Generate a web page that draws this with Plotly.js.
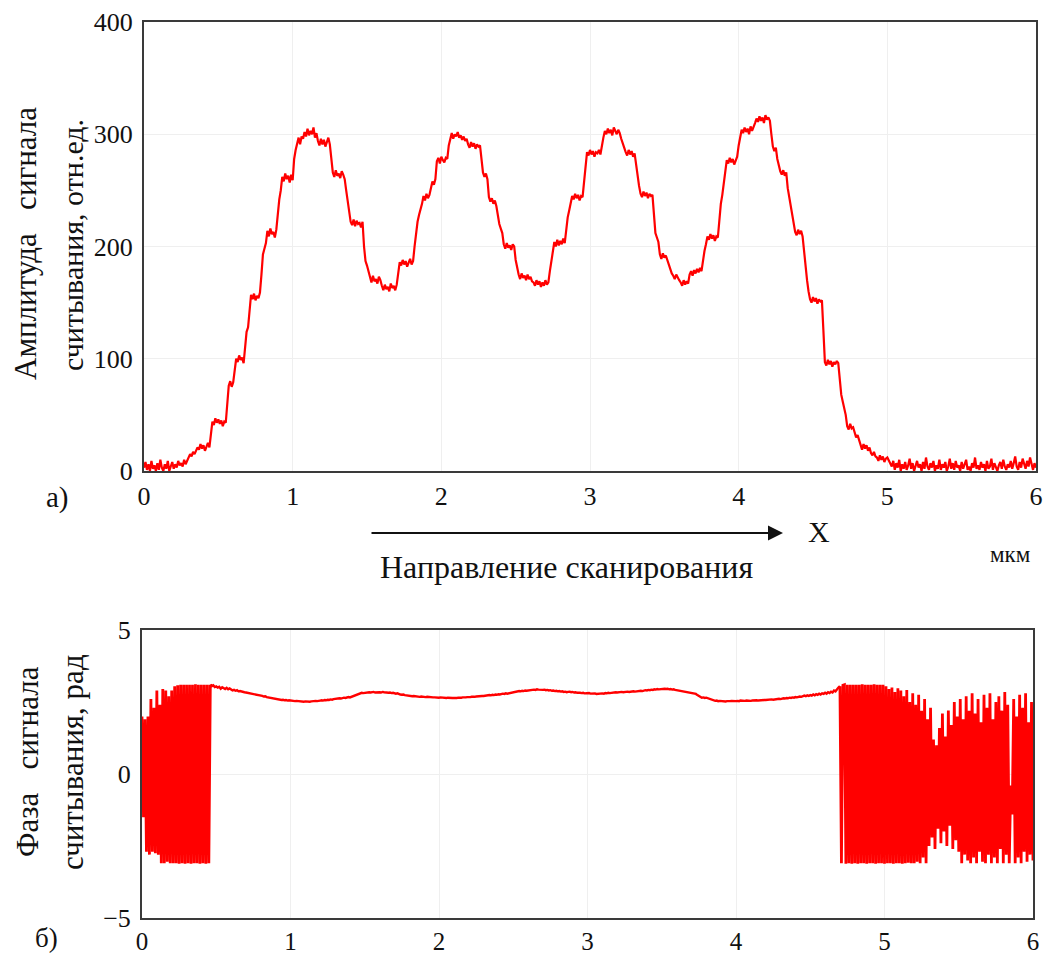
<!DOCTYPE html>
<html>
<head>
<meta charset="utf-8">
<script src="https://cdn.plot.ly/plotly-3.0.1.min.js"></script>
<style>html,body{margin:0;padding:0;background:#fff;}#chart{width:1051px;height:955px;}</style>
</head>
<body>
<div id="chart"></div>
<script>
// Sampling of the scan coordinate (мкм)
const xStart = 0;
const xStep = 0.01;

// Amplitude of the read signal, rel. units; one row per 0.1 мкм (x = 0.00 ... 6.00)
const amplitude = [
  3, 8, 1, 6, 0, 9, 2, 5, 0, 7,
  1, 10, 3, 0, 6, 2, 9, 0, 4, 8,
  2, 6, 3, 9, 5, 7, 4, 10, 6, 9,
  11, 15, 13, 17, 15, 19, 21, 19, 24, 20,
  23, 18, 22, 25, 21, 33, 44, 41, 47, 43,
  46, 42, 45, 40, 44, 43, 60, 76, 80, 75,
  79, 90, 100, 97, 103, 99, 101, 96, 112, 124,
  128, 140, 157, 153, 158, 152, 156, 154, 159, 175,
  193, 198, 203, 214, 209, 216, 211, 213, 208, 215,
  232, 242, 250, 262, 258, 265, 260, 263, 257, 264,
  259, 278, 286, 293, 297, 291, 298, 296, 302, 298,
  305, 299, 303, 300, 306, 297, 301, 294, 290, 296,
  291, 295, 289, 293, 297, 291, 278, 266, 262, 268,
  263, 265, 261, 267, 264, 260, 250, 240, 230, 222,
  219, 224, 218, 223, 220, 221, 217, 222, 200, 187,
  183, 178, 172, 168, 174, 169, 171, 167, 173, 170,
  165, 161, 166, 162, 164, 160, 167, 163, 165, 161,
  166, 176, 186, 183, 188, 184, 187, 182, 186, 189,
  184, 187, 200, 212, 222, 228, 232, 238, 245, 241,
  247, 243, 246, 253, 258, 255, 260, 276, 279, 274,
  280, 277, 275, 279, 278, 290, 297, 301, 296, 300,
  298, 302, 297, 299, 295, 298, 294, 296, 291, 288,
  293, 289, 292, 287, 291, 289, 290, 276, 266, 262,
  265, 260, 244, 240, 243, 238, 241, 236, 226, 220,
  216, 212, 202, 198, 203, 199, 201, 197, 202, 200,
  188, 181, 175, 171, 176, 172, 174, 170, 175, 171,
  173, 169, 168, 165, 170, 166, 169, 164, 168, 165,
  170, 166, 168, 178, 186, 193, 204, 200, 206, 201,
  205, 202, 207, 203, 218, 226, 232, 238, 245, 242,
  247, 243, 246, 241, 245, 244, 258, 270, 284, 281,
  286, 282, 285, 280, 284, 283, 286, 282, 292, 297,
  303, 300, 305, 301, 304, 299, 306, 302, 300, 304,
  301, 296, 291, 288, 284, 281, 286, 282, 285, 280,
  283, 272, 262, 254, 247, 244, 249, 245, 248, 243,
  247, 245, 246, 225, 212, 208, 204, 193, 189, 194,
  190, 192, 188, 184, 179, 176, 174, 171, 175, 172,
  170, 168, 165, 170, 166, 169, 167, 175, 178, 174,
  179, 176, 180, 177, 181, 178, 188, 196, 202, 209,
  206, 211, 207, 210, 205, 209, 208, 225, 238, 246,
  255, 264, 277, 274, 279, 275, 278, 273, 277, 280,
  290, 296, 304, 301, 306, 302, 305, 300, 307, 303,
  306, 310, 314, 311, 316, 312, 315, 310, 317, 313,
  315, 312, 300, 289, 285, 288, 278, 272, 267, 264,
  268, 263, 266, 252, 244, 236, 226, 220, 213, 210,
  215, 211, 214, 209, 195, 180, 170, 160, 153, 150,
  155, 151, 154, 149, 153, 151, 152, 125, 97, 94,
  99, 95, 98, 93, 97, 95, 98, 96, 78, 68,
  62, 56, 50, 40, 37, 42, 38, 39, 33, 30,
  32, 27, 22, 19, 24, 20, 23, 18, 21, 16,
  14, 17, 13, 12, 9, 14, 10, 13, 8, 11,
  12, 9, 7, 4, 9, 1, 7, 3, 10, 0,
  6, 2, 8, 1, 5, 11, 2, 7, 0, 4,
  9, 3, 6, 0, 8, 2, 12, 4, 1, 7,
  3, 9, 0, 5, 2, 10, 1, 6, 3, 8,
  0, 4, 11, 2, 7, 1, 9, 3, 5, 0,
  8, 2, 6, 10, 1, 4, 0, 7, 3, 12,
  2, 5, 1, 8, 3, 6, 0, 9, 2, 4,
  11, 1, 7, 3, 0, 5, 8, 2, 10, 4,
  1, 6, 3, 9, 2, 7, 13, 4, 1, 8,
  3, 11, 5, 2, 9, 4, 12, 6, 1, 7,
  3
];

// Phase of the read signal, rad; one row per 0.1 мкм (x = 0.00 ... 6.00)
const phase = [
  2.0, -1.5, 1.9, -2.7, 2.0, -2.8, 2.6, -2.7, 2.3, -2.75,
  2.9, -2.8, 2.4, -3.1, 2.95, -3.1, 2.9, -3.05, 2.7, -3.1,
  2.9, -3.1, 3.05, -3.1, 3.08, -3.12, 3.1, -3.1, 3.1, -3.12,
  3.1, -3.1, 3.1, -3.12, 3.1, -3.1, 3.12, -3.1, 3.1, -3.12,
  3.1, -3.1, 3.1, -3.12, 3.1, -3.1, 3.1, 3.05, 3.08, 3.02,
  3.04, 3.0, 3.03, 2.96, 3.01, 2.98, 2.95, 2.99, 2.94, 2.97,
  2.93, 2.9, 2.92, 2.89, 2.91, 2.87, 2.88, 2.86, 2.85, 2.84,
  2.83, 2.82, 2.8, 2.81, 2.78, 2.79, 2.76, 2.77, 2.74, 2.75,
  2.72, 2.71, 2.69, 2.7, 2.67, 2.66, 2.65, 2.64, 2.62, 2.63,
  2.61, 2.6, 2.59, 2.58, 2.57, 2.58, 2.56, 2.57, 2.55, 2.56,
  2.55, 2.54, 2.55, 2.53, 2.54, 2.53, 2.52, 2.53, 2.52, 2.51,
  2.52, 2.51, 2.52, 2.51, 2.52, 2.53, 2.52, 2.54, 2.53, 2.55,
  2.55, 2.56, 2.55, 2.57, 2.56, 2.58, 2.57, 2.59, 2.58, 2.6,
  2.61, 2.62, 2.61, 2.63, 2.62, 2.64, 2.65, 2.64, 2.66, 2.67,
  2.66, 2.68, 2.7, 2.72, 2.75, 2.77, 2.79, 2.81, 2.82, 2.81,
  2.82, 2.83, 2.82, 2.84, 2.83, 2.84, 2.85, 2.83, 2.84, 2.85,
  2.84, 2.83, 2.85, 2.84, 2.83, 2.84, 2.82, 2.83, 2.81, 2.82,
  2.8, 2.79, 2.8, 2.77, 2.76, 2.75, 2.76, 2.74, 2.73, 2.72,
  2.72, 2.71, 2.7, 2.71, 2.7, 2.69, 2.7, 2.68, 2.69, 2.68,
  2.68, 2.67, 2.68, 2.67, 2.66, 2.67, 2.66, 2.66, 2.65, 2.66,
  2.65, 2.66, 2.65, 2.64, 2.65, 2.64, 2.65, 2.64, 2.63, 2.64,
  2.64, 2.63, 2.64, 2.65, 2.64, 2.65, 2.66, 2.65, 2.66, 2.67,
  2.66, 2.67, 2.68, 2.67, 2.68, 2.69, 2.7, 2.69, 2.7, 2.71,
  2.71, 2.72, 2.73, 2.72, 2.74, 2.73, 2.75, 2.74, 2.76, 2.75,
  2.77, 2.76, 2.78, 2.79, 2.78, 2.8, 2.79, 2.8, 2.82, 2.83,
  2.84, 2.86, 2.87, 2.86, 2.88, 2.87, 2.89, 2.88, 2.9, 2.89,
  2.9, 2.91, 2.92, 2.91, 2.93, 2.92, 2.94, 2.93, 2.92, 2.93,
  2.92, 2.93, 2.91, 2.92, 2.9, 2.91, 2.89, 2.9, 2.88, 2.89,
  2.87, 2.88, 2.86, 2.87, 2.85, 2.86, 2.84, 2.85, 2.86, 2.84,
  2.85, 2.83, 2.84, 2.82, 2.83, 2.82, 2.81, 2.82, 2.8, 2.81,
  2.8, 2.81, 2.79, 2.8, 2.79, 2.8, 2.78, 2.79, 2.8, 2.79,
  2.8, 2.79, 2.81, 2.8, 2.82, 2.81, 2.82, 2.83, 2.82, 2.84,
  2.83, 2.84, 2.83, 2.85, 2.84, 2.85, 2.84, 2.86, 2.85, 2.86,
  2.85, 2.87, 2.86, 2.87, 2.88, 2.87, 2.89, 2.88, 2.9, 2.91,
  2.9, 2.92, 2.91, 2.93, 2.92, 2.94, 2.93, 2.95, 2.94, 2.95,
  2.96, 2.95, 2.96, 2.95, 2.96, 2.94, 2.95, 2.93, 2.94, 2.92,
  2.91, 2.9, 2.89, 2.87, 2.86, 2.84, 2.83, 2.82, 2.81, 2.8,
  2.79, 2.8, 2.79, 2.78, 2.74, 2.7, 2.66, 2.65, 2.66, 2.64,
  2.65, 2.63, 2.62, 2.6, 2.58, 2.56, 2.54, 2.55, 2.53, 2.54,
  2.53, 2.52, 2.53, 2.52, 2.53, 2.52, 2.53, 2.54, 2.53, 2.54,
  2.53, 2.54, 2.53, 2.55, 2.54, 2.53, 2.54, 2.55, 2.54, 2.55,
  2.54, 2.55, 2.56, 2.55, 2.56, 2.55, 2.56, 2.57, 2.56, 2.57,
  2.57, 2.58, 2.57, 2.58, 2.59, 2.58, 2.59, 2.6, 2.59, 2.61,
  2.6, 2.62, 2.63, 2.62, 2.64, 2.63, 2.65, 2.64, 2.66, 2.65,
  2.67, 2.66, 2.68, 2.69, 2.68, 2.7, 2.72, 2.7, 2.73, 2.71,
  2.74, 2.72, 2.76, 2.73, 2.77, 2.75, 2.79, 2.76, 2.8, 2.78,
  2.82, 2.79, 2.84, 2.81, 2.86, 2.83, 2.9, 2.87, 2.95, 3.0,
  3.05, -3.1, 3.08, 3.1, -3.12, 3.1, -3.1, 3.1, -3.12, 3.1,
  -3.1, 3.1, -3.12, 3.1, -3.1, 3.12, -3.1, 3.1, -3.12, 3.1,
  -3.1, 3.1, -3.1, 3.12, -3.12, 3.1, -3.1, 3.1, -3.1, 3.1,
  -3.12, 3.05, -3.1, 2.95, -3.1, 3.0, -3.12, 2.85, -3.1, 2.98,
  -3.1, 2.9, -3.12, 2.7, -3.1, 2.92, -3.08, 2.5, -3.1, 2.8,
  -3.1, 2.4, -3.05, 2.75, -3.1, 2.2, -2.9, 2.6, -3.1, 1.9,
  -2.5, 2.3, -2.2, 1.2, -2.6, 1.0, -1.9, 1.6, -2.4, 2.1,
  -2.0, 1.3, -2.5, 2.2, -1.8, 1.7, -2.6, 2.5, -2.3, 2.0,
  -2.7, 2.6, -3.1, 1.9, -2.8, 2.7, -3.0, 2.2, -3.1, 2.8,
  -2.9, 2.1, -3.1, 2.6, -2.7, 1.8, -3.05, 2.75, -3.1, 2.3,
  -2.8, 2.8, -3.1, 1.9, -2.9, 2.5, -3.1, 2.7, -2.6, 2.2,
  -3.1, 2.85, -2.8, 2.4, -3.1, -0.4, -1.4, 2.6, -3.1, 2.0,
  -2.9, 2.75, -3.1, 2.3, -2.7, 2.8, -3.05, 1.8, -2.8, 2.5,
  -3.0
];

// Index ranges of the phase record: noisy start, smooth middle, noisy end
const phaseSegments = [[0, 46], [46, 470], [470, 600]];

// Axis ticks
const xTicks = [0, 1, 2, 3, 4, 5, 6];
const ampTicks = [0, 100, 200, 300, 400];
const phaseTicks = [-5, 0, 5];

const SERIF = 'Liberation Serif, Times New Roman, DejaVu Serif, serif';
const RED = '#ff0000';

const traces = [
  {x0: xStart, dx: xStep, y: amplitude, type: 'scatter', mode: 'lines',
   line: {color: RED, width: 2.2}, xaxis: 'x', yaxis: 'y', hoverinfo: 'skip'}
];
phaseSegments.forEach(([a, b], k) => {
  traces.push({x0: xStart + a * xStep, dx: xStep, y: phase.slice(a, b + 1),
    type: 'scatter', mode: 'lines',
    line: {color: RED, width: k === 1 ? 2.4 : 2.8}, xaxis: 'x2', yaxis: 'y2', hoverinfo: 'skip'});
});

const W = 1051, H = 955;
const px = v => v / W;
const py = v => 1 - v / H;

const axisCommon = {
  showline: true, mirror: true, linecolor: '#3a3a3a', linewidth: 2,
  showgrid: true, gridcolor: '#efefef', gridwidth: 1,
  zeroline: false, ticks: '', tickfont: {family: SERIF, size: 26, color: '#111'},
  fixedrange: true
};

function label(x, y, text, size, angle) {
  return {xref: 'paper', yref: 'paper', x: px(x), y: py(y), text: text, showarrow: false,
    textangle: angle || 0, xanchor: 'center', yanchor: 'middle',
    font: {family: SERIF, size: size, color: '#111'}};
}

const layout = {
  width: W, height: H,
  margin: {l: 0, r: 0, t: 0, b: 0},
  paper_bgcolor: '#ffffff', plot_bgcolor: '#ffffff',
  showlegend: false,
  font: {family: SERIF, color: '#111'},
  xaxis: Object.assign({}, axisCommon, {domain: [px(144), px(1036)], range: [0, 6],
    tickvals: xTicks, ticktext: xTicks.map(String), anchor: 'y', ticklabelstandoff: 1}),
  yaxis: Object.assign({}, axisCommon, {domain: [py(471), py(22)], range: [0, 400],
    tickvals: ampTicks, ticktext: ampTicks.map(String), anchor: 'x', ticklabelstandoff: 4}),
  xaxis2: Object.assign({}, axisCommon, {domain: [px(142), px(1033)], range: [0, 6],
    tickvals: xTicks, ticktext: xTicks.map(String), anchor: 'y2', ticklabelstandoff: 0,
    tickfont: {family: SERIF, size: 25, color: '#111'}}),
  yaxis2: Object.assign({}, axisCommon, {domain: [py(918), py(630)], range: [-5, 5],
    tickvals: phaseTicks, ticktext: phaseTicks.map(v => v < 0 ? '\u2212' + Math.abs(v) : String(v)),
    anchor: 'x2', ticklabelstandoff: 4}),
  annotations: [
    label(25, 244, 'Амплитуда\u00A0\u00A0 сигнала', 31, -90),
    label(72, 245, 'считывания, отн.ед.', 30, -90),
    label(27, 762, 'Фаза\u00A0\u00A0 сигнала', 31, -90),
    label(72, 762, 'считывания, рад', 31, -90),
    label(57, 497, 'а)', 29),
    label(46, 938, 'б)', 27),
    {xref: 'paper', yref: 'paper', x: px(783), y: py(533), text: '', showarrow: true,
     axref: 'pixel', ayref: 'pixel', ax: -413, ay: 0, arrowhead: 2, arrowsize: 1.5,
     arrowwidth: 2, arrowcolor: '#111', standoff: 0, startstandoff: 0},
    label(819, 531, 'X', 30),
    label(566, 567, 'Направление сканирования', 32),
    label(1010, 554, 'мкм', 23)
  ]
};

Plotly.newPlot('chart', traces, layout, {staticPlot: true, displayModeBar: false});
</script>
</body>
</html>
